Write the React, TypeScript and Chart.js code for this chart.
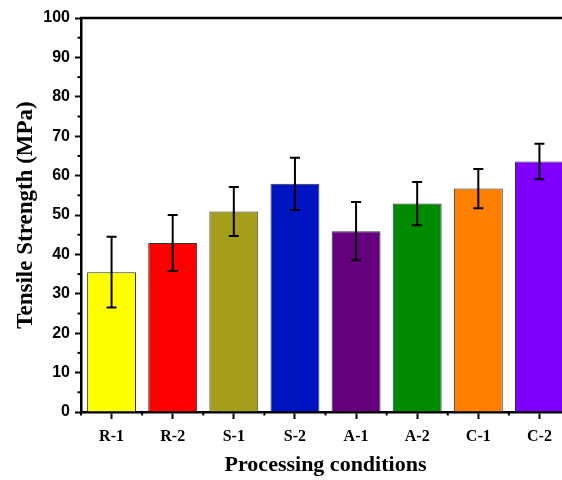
import React, { useEffect, useRef } from "react";
import { Chart, registerables } from "chart.js";

Chart.register(...registerables);

const categories = ["R-1", "R-2", "S-1", "S-2", "A-1", "A-2", "C-1", "C-2"];
const strengths = [35.5, 42.9, 50.9, 57.9, 45.9, 52.9, 56.7, 63.6];
const errors = [9.0, 7.1, 6.2, 6.6, 7.4, 5.5, 5.0, 4.5];
const barColors = ["#FFFF00", "#FF0000", "#A59E1A", "#0014C4", "#66007F", "#008A00", "#FF8000", "#8000FF"];
const yTitle = "Tensile Strength (MPa)";
const xTitle = "Processing conditions";

const decorations = {
  id: "decorations",
  afterDatasetsDraw(chart: any) {
    const { ctx, scales } = chart;
    const y = scales.y;
    const meta = chart.getDatasetMeta(0);
    ctx.save();
    ctx.strokeStyle = "#000";
    ctx.lineWidth = 2;
    meta.data.forEach((bar: any, i: number) => {
      const cx = bar.x;
      const top = y.getPixelForValue(strengths[i] + errors[i]);
      const bot = y.getPixelForValue(strengths[i] - errors[i]);
      ctx.beginPath();
      ctx.moveTo(cx, top);
      ctx.lineTo(cx, bot);
      ctx.moveTo(cx - 5, top);
      ctx.lineTo(cx + 5, top);
      ctx.moveTo(cx - 5, bot);
      ctx.lineTo(cx + 5, bot);
      ctx.stroke();
    });
    ctx.restore();
  },
  afterDraw(chart: any) {
    const { ctx, chartArea, scales } = chart;
    const y = scales.y;
    const x = scales.x;
    ctx.save();
    ctx.strokeStyle = "#000";
    ctx.lineWidth = 2.5;
    ctx.beginPath();
    ctx.moveTo(chartArea.left - 1, chartArea.top);
    ctx.lineTo(chart.width, chartArea.top);
    ctx.stroke();
    ctx.lineWidth = 2;
    for (let v = 5; v < 100; v += 10) {
      const py = y.getPixelForValue(v);
      ctx.beginPath();
      ctx.moveTo(chartArea.left, py);
      ctx.lineTo(chartArea.left - 3.5, py);
      ctx.stroke();
    }
    const n = categories.length;
    for (let i = 0; i <= n; i++) {
      const px = x.getPixelForValue(i - 0.5);
      ctx.beginPath();
      ctx.moveTo(px, chartArea.bottom);
      ctx.lineTo(px, chartArea.bottom + 3.5);
      ctx.stroke();
    }
    ctx.restore();
  },
};

export default function App() {
  const ref = useRef<HTMLCanvasElement>(null);
  useEffect(() => {
    if (!ref.current) return;
    const chart = new Chart(ref.current, {
      type: "bar",
      data: {
        labels: categories,
        datasets: [
          {
            data: strengths,
            backgroundColor: barColors,
            borderColor: "#333333",
            borderWidth: 1,
            categoryPercentage: 0.8,
            barPercentage: 1,
          },
        ],
      },
      options: {
        animation: false,
        responsive: false,
        layout: { padding: { top: 18, right: 30, left: 0, bottom: 0 } },
        plugins: { legend: { display: false }, tooltip: { enabled: false } },
        scales: {
          x: {
            grid: {
              display: true,
              drawOnChartArea: false,
              drawTicks: true,
              tickLength: 7,
              tickWidth: 2,
              tickColor: "#000",
              offset: false,
            },
            border: { display: true, color: "#000", width: 2.5 },
            ticks: {
              color: "#000",
              padding: 8,
              font: { family: "Liberation Serif", weight: "bold", size: 16 },
            },
            title: {
              display: true,
              text: xTitle,
              color: "#000",
              font: { family: "Liberation Serif", weight: "bold", size: 22 },
              padding: { top: 0, bottom: 1 },
            },
            afterFit(scale: any) {
              scale.height = 68;
            },
          },
          y: {
            min: 0,
            max: 100,
            ticks: {
              stepSize: 10,
              color: "#000",
              padding: 5,
              font: { family: "Liberation Sans", weight: "bold", size: 16 },
            },
            grid: {
              display: true,
              drawOnChartArea: false,
              drawTicks: true,
              tickLength: 6,
              tickWidth: 2,
              tickColor: "#000",
            },
            border: { display: true, color: "#000", width: 2.5 },
            title: {
              display: true,
              text: yTitle,
              color: "#000",
              font: { family: "Liberation Serif", weight: "bold", size: 23 },
              padding: { top: 12, bottom: 0 },
            },
            afterFit(scale: any) {
              scale.width = 81;
            },
          },
        },
      },
      plugins: [decorations],
    });
    return () => chart.destroy();
  }, []);
  return (
    <div style={{ position: "fixed", left: 0, top: 0, width: 562, height: 480, overflow: "hidden", background: "#fff" }}>
      <canvas ref={ref} width={600} height={480} style={{ width: 600, height: 480, display: "block" }} />
    </div>
  );
}
